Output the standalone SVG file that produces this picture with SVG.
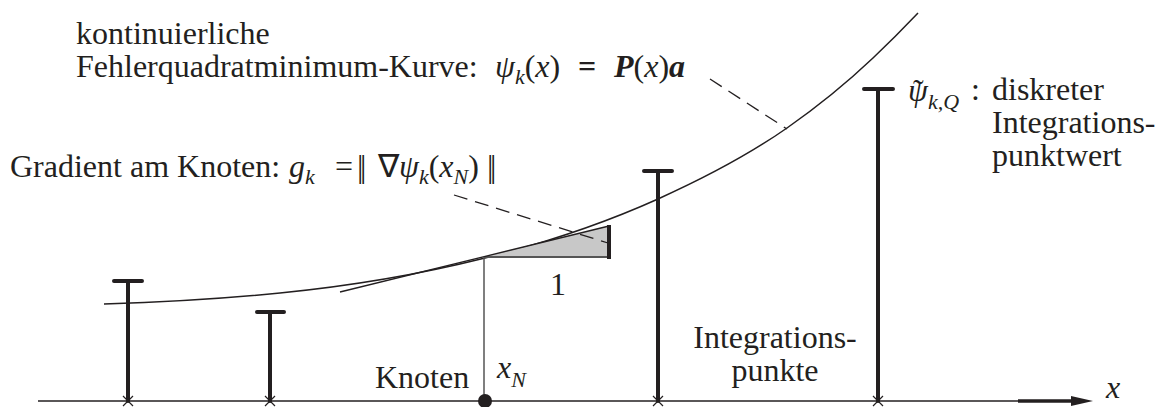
<svg xmlns="http://www.w3.org/2000/svg" width="1158" height="407" viewBox="0 0 1158 407">
<defs>
<style>
text{font-family:"Liberation Serif","Times New Roman",serif;font-size:32px;fill:#231f20}
.it{font-style:italic}
.bi{font-style:italic;font-weight:bold}
.sub{font-size:22px}
.up{font-style:normal}
.bar{stroke:#231f20;stroke-width:4;fill:none;stroke-linecap:round}
.thin{stroke:#231f20;stroke-width:1.5;fill:none}
.dash{stroke:#231f20;stroke-width:1.3;fill:none;stroke-dasharray:14 8}
.tick{stroke:#231f20;stroke-width:1.2;fill:none}
.norm{letter-spacing:-3.5px}
</style>
</defs>
<rect width="1158" height="407" fill="#fff"/>

<g id="axis">
  <line class="thin" x1="38" y1="401" x2="1018" y2="401"/>
  <line x1="1018" y1="401" x2="1076" y2="401" stroke="#231f20" stroke-width="3.5"/>
  <polygon points="1071,396 1093,401 1071,406" fill="#231f20"/>
  <text x="1106" y="398" class="it">x</text>
</g>

<g id="curve">
  <path class="thin" d="M104,304 C162.7,302.2 221.3,298.9 280,293 C348.3,286.2 416.7,275.1 485,258 C542.7,243.6 600.3,225 658,199 C701,179.6 744,158.1 787,128 C815.7,107.9 844.3,85.2 873,58 C888,43.8 903,28.8 918,13"/>
</g>

<g id="gradient-triangle">
  <polygon points="484,257 609,257 609,226" fill="#c8c8c8"/>
  <line x1="484" y1="257" x2="609" y2="257" stroke="#555" stroke-width="2"/>
  <line x1="340" y1="292" x2="609" y2="226" stroke="#231f20" stroke-width="1.3"/>
  <line x1="609" y1="225" x2="609" y2="259" stroke="#231f20" stroke-width="4"/>
  <text x="550" y="295">1</text>
</g>

<g id="node">
  <line x1="484" y1="257" x2="484" y2="401" stroke="#555" stroke-width="1.5"/>
  <circle cx="485" cy="401" r="7" fill="#231f20"/>
  <text x="375" y="388">Knoten</text>
  <text x="497" y="378" class="it">x<tspan class="sub" dy="9">N</tspan></text>
</g>

<g id="ip1">
  <path class="bar" d="M128,401 V281 M114,281 H142"/>
  <path class="tick" d="M123,396 L133,406 M133,396 L123,406"/>
</g>
<g id="ip2">
  <path class="bar" d="M270,401 V312 M257,312 H284"/>
  <path class="tick" d="M265,396 L275,406 M275,396 L265,406"/>
</g>
<g id="ip3">
  <path class="bar" d="M658,401 V171 M644,171 H672"/>
  <path class="tick" d="M653,396 L663,406 M663,396 L653,406"/>
</g>
<g id="ip4">
  <path class="bar" d="M878,401 V89 M864,89 H893"/>
  <path class="tick" d="M873,396 L883,406 M883,396 L873,406"/>
</g>

<g id="connectors">
  <line class="dash" x1="710" y1="79" x2="787" y2="129"/>
  <line class="dash" x1="454" y1="195" x2="608" y2="243"/>
</g>

<g id="label-curve">
  <text x="76" y="44">kontinuierliche</text>
  <text x="76" y="77">Fehlerquadratminimum-Kurve:</text>
  <text x="495" y="77"><tspan class="it">ψ</tspan><tspan class="it sub" dy="7">k</tspan><tspan dy="-7">(</tspan><tspan class="it">x</tspan><tspan>)</tspan><tspan x="578" font-weight="bold">=</tspan><tspan x="614" class="bi">P</tspan><tspan>(</tspan><tspan class="it">x</tspan><tspan>)</tspan><tspan class="bi">a</tspan></text>
</g>

<g id="label-gradient">
  <text x="10" y="177">Gradient am Knoten:</text>
  <text x="289" y="177"><tspan class="it">g</tspan><tspan class="it sub" dy="7">k</tspan><tspan dy="-7" x="335">=</tspan><tspan x="357" class="norm">||</tspan><tspan x="378">∇</tspan><tspan class="it">ψ</tspan><tspan class="it sub" dy="7">k</tspan><tspan dy="-7">(</tspan><tspan class="it">x</tspan><tspan class="it sub" dy="7">N</tspan><tspan dy="-7">)</tspan><tspan x="487" class="norm">||</tspan></text>
</g>

<g id="label-discrete">
  <text x="908" y="101" class="it">ψ<tspan class="sub" dy="8">k,Q</tspan><tspan class="up" x="913" y="101">˜</tspan></text>
  <text x="971" y="100">:</text>
  <text x="992" y="100">diskreter</text>
  <text x="992" y="133">Integrations-</text>
  <text x="992" y="166">punktwert</text>
</g>

<g id="label-ip">
  <text x="775" y="348" text-anchor="middle">Integrations-</text>
  <text x="775" y="381" text-anchor="middle">punkte</text>
</g>
</svg>
